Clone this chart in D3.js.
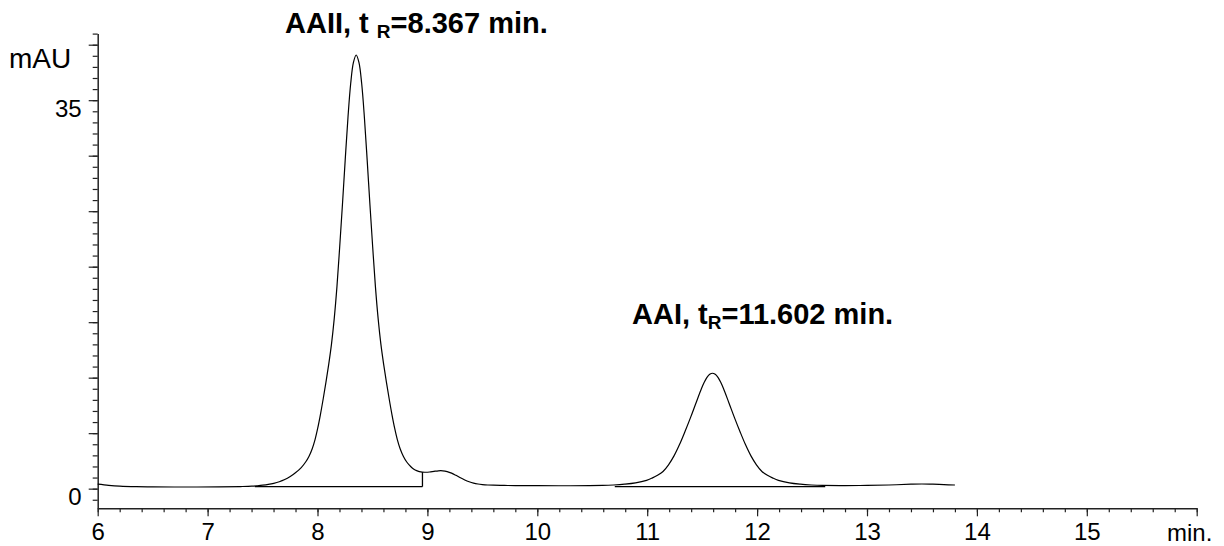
<!DOCTYPE html>
<html>
<head>
<meta charset="utf-8">
<script src="https://cdn.jsdelivr.net/npm/d3@7"></script>
<style>
  html, body { margin: 0; padding: 0; background: #fff; }
  svg { display: block; }
  text { font-family: "Liberation Sans", Arial, sans-serif; fill: #000; }
</style>
</head>
<body>
<svg id="chart" width="1224" height="546"></svg>
<script>
// ---- data ----
const times = [
  6.00, 6.10, 6.20, 6.35, 6.50, 6.80, 7.10, 7.30,
  7.402, 7.452, 7.502, 7.552, 7.602, 7.652, 7.702, 7.752, 7.802, 7.852, 7.892, 7.922, 7.952, 7.977, 8.002, 8.027, 8.052, 8.077,
  8.102, 8.127, 8.152, 8.177, 8.202, 8.227, 8.252, 8.277, 8.302, 8.327, 8.352,
  8.377, 8.402, 8.427, 8.452, 8.477, 8.502, 8.527, 8.552, 8.577, 8.602, 8.627, 8.652, 8.677, 8.702, 8.727, 8.752, 8.782, 8.812,
  8.852, 8.877, 8.902, 8.927, 8.952, 8.98, 9.02, 9.06, 9.10, 9.14, 9.18, 9.22, 9.26, 9.30, 9.34, 9.38, 9.42, 9.46, 9.50, 9.55,
  9.60, 9.70, 9.80, 10.00, 10.30,
  10.594, 10.694, 10.794, 10.894, 10.994, 11.044, 11.094, 11.144, 11.194, 11.244, 11.294, 11.344, 11.394, 11.444, 11.494, 11.519,
  11.544, 11.569, 11.594, 11.619, 11.644, 11.669, 11.694, 11.744, 11.794, 11.844, 11.894, 11.944, 11.994, 12.044, 12.094, 12.144,
  12.194, 12.294, 12.394, 12.494, 12.594, 12.80, 13.00, 13.20, 13.40, 13.50, 13.60, 13.70, 13.80];
const signal = [
  0.40, 0.30, 0.23, 0.18, 0.16, 0.15, 0.16, 0.19,
  0.22, 0.26, 0.31, 0.38, 0.48, 0.62, 0.82, 1.10, 1.45, 1.90, 2.40, 2.90, 3.60, 4.40, 5.45, 6.70, 8.10, 9.60,
  11.20, 13.00, 15.30, 18.20, 21.80, 25.60, 29.60, 33.40, 36.50, 38.40, 39.07,
  38.40, 36.50, 33.40, 29.60, 25.60, 21.80, 18.20, 15.30, 13.00, 11.20, 9.60, 8.10, 6.70, 5.45, 4.40, 3.60, 2.90, 2.40,
  1.95, 1.75, 1.62, 1.54, 1.49, 1.48, 1.50, 1.56, 1.61, 1.61, 1.54, 1.40, 1.20, 0.98, 0.78, 0.62, 0.50, 0.42, 0.37, 0.33,
  0.31, 0.29, 0.28, 0.27, 0.26,
  0.29, 0.33, 0.40, 0.52, 0.75, 0.95, 1.20, 1.55, 2.15, 2.95, 3.97, 5.15, 6.40, 7.72, 9.02, 9.58,
  10.02, 10.30, 10.40, 10.30, 10.02, 9.58, 9.02, 7.72, 6.40, 5.15, 3.97, 2.95, 2.15, 1.55, 1.20, 0.95,
  0.75, 0.52, 0.40, 0.33, 0.29, 0.28, 0.29, 0.33, 0.40, 0.42, 0.40, 0.36, 0.33];
const peakNames = ["AAII", "AAI"];
const peakTimes = ["8.367", "11.602"];
const integStart = [7.43, 10.705];
const integEnd = [8.955, 12.62];
const integLevel = [0.18, 0.18];
const xTickLabels = [6, 7, 8, 9, 10, 11, 12, 13, 14, 15];
const yTickLabels = [0, 35];
const xUnit = "min.";
const yUnit = "mAU";

// ---- scales ----
const svg = d3.select("#chart");
const x = d3.scaleLinear().domain([6, 16]).range([97.7, 1196.7]);
const y = d3.scaleLinear().domain([-1.77, 41]).range([508.3, 33.6]);

// ---- axes ----
const axisStroke = "#222";
const font = "Liberation Sans, Arial, sans-serif";
// y minor ticks
const yMinor = d3.range(-1, 42, 1);
svg.append("g").attr("transform", `translate(${x(6)},0)`)
  .call(d3.axisLeft(y).tickValues(yMinor).tickSize(5).tickFormat("").tickSizeOuter(0))
  .call(g => g.selectAll("line").attr("stroke", axisStroke).attr("stroke-width", 1.2))
  .call(g => g.select(".domain").attr("stroke", axisStroke).attr("stroke-width", 1.5));
// y major ticks
svg.append("g").attr("transform", `translate(${x(6)},0)`)
  .call(d3.axisLeft(y).tickValues(d3.range(0, 41, 5)).tickSize(9).tickSizeOuter(0)
    .tickFormat(d => yTickLabels.includes(d) ? String(d) : ""))
  .call(g => g.select(".domain").remove())
  .call(g => g.selectAll("line").attr("stroke", axisStroke).attr("stroke-width", 1.2))
  .call(g => g.selectAll("text").attr("font-size", 24).attr("font-family", font)
     .attr("x", -16).attr("dy", "0.68em").attr("fill", "#000"));

// x minor ticks
const xMinor = d3.range(60, 161, 2).map(v => v / 10);
svg.append("g").attr("transform", `translate(0,${y(-1.77)})`)
  .call(d3.axisBottom(x).tickValues(xMinor).tickSize(4).tickFormat("").tickSizeOuter(0))
  .call(g => g.selectAll("line").attr("stroke", axisStroke).attr("stroke-width", 1.2))
  .call(g => g.select(".domain").attr("stroke", axisStroke).attr("stroke-width", 1.5));
// x major ticks
svg.append("g").attr("transform", `translate(0,${y(-1.77)})`)
  .call(d3.axisBottom(x).tickValues(d3.range(6, 17, 1)).tickSize(8).tickSizeOuter(0)
    .tickFormat(d => xTickLabels.includes(d) ? String(d) : ""))
  .call(g => g.select(".domain").remove())
  .call(g => g.selectAll("text").attr("font-size", 24).attr("font-family", font)
     .attr("y", 14).attr("dy", "0.75em").attr("fill", "#000"))
  .call(g => g.selectAll("line").attr("stroke", axisStroke).attr("stroke-width", 1.2));

// units
svg.append("text").attr("x", 9).attr("y", 68).attr("font-size", 28).text(yUnit);
svg.append("text").attr("x", 1167).attr("y", 541).attr("font-size", 24).text(xUnit);

// ---- integration baselines ----
const base = svg.append("g").attr("stroke", "#000").attr("stroke-width", 1.3).attr("fill", "none");
const sigAt = t => {
  const i = d3.bisectLeft(times, t);
  if (i <= 0) return signal[0];
  const t0 = times[i - 1], t1 = times[i];
  return signal[i - 1] + (signal[i] - signal[i - 1]) * (t - t0) / (t1 - t0);
};
integStart.forEach((s, i) => {
  base.append("line").attr("x1", x(s)).attr("x2", x(integEnd[i]))
    .attr("y1", y(integLevel[i])).attr("y2", y(integLevel[i]));
});
// drop line at end of first peak
base.append("line").attr("x1", x(integEnd[0])).attr("x2", x(integEnd[0]))
  .attr("y1", y(integLevel[0])).attr("y2", y(sigAt(integEnd[0])));

// ---- trace ----
const pts = times.map((t, i) => [t, signal[i]]);
svg.append("path").datum(pts)
  .attr("fill", "none").attr("stroke", "#000").attr("stroke-width", 1.2)
  .attr("stroke-linejoin", "round")
  .attr("d", d3.line().x(d => x(d[0])).y(d => y(d[1])).curve(d3.curveCatmullRom.alpha(0.5)));

// ---- peak labels ----
function peakLabel(px, py, name, rt, spaceBeforeR) {
  const t = svg.append("text").attr("x", px).attr("y", py)
    .attr("font-size", 29).attr("font-weight", "bold");
  t.append("tspan").text(name + ", t" + (spaceBeforeR ? " " : ""));
  t.append("tspan").attr("font-size", 19).attr("dy", 5).text("R");
  t.append("tspan").attr("dy", -5).text("=" + rt + " min.");
}
peakLabel(285, 33, peakNames[0], peakTimes[0], true);
peakLabel(632, 324, peakNames[1], peakTimes[1], false);
</script>
</body>
</html>
